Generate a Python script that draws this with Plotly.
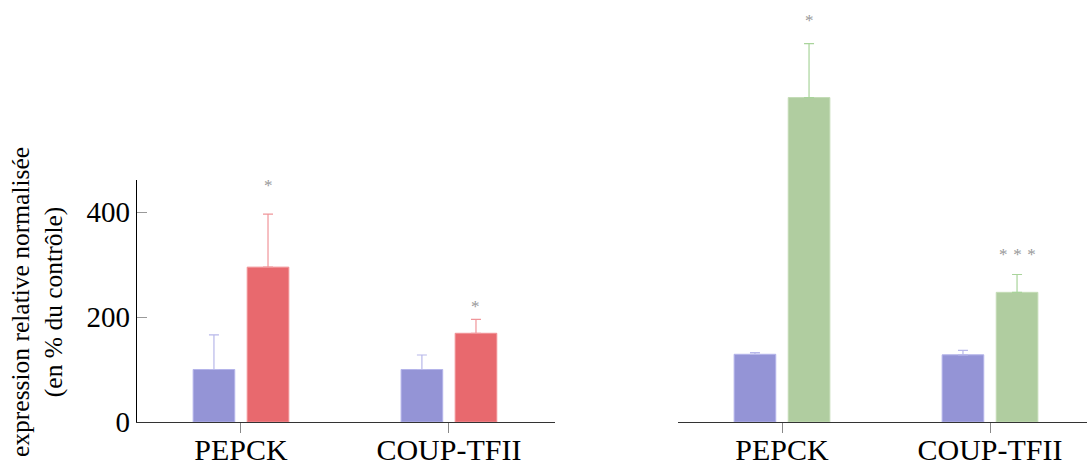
import plotly.graph_objects as go

categories = ["PEPCK", "COUP-TFII"]

# left panel
left_ctrl = [100, 100]
left_ctrl_err = [66, 27.6]
left_trt = [295, 169]
left_trt_err = [101, 26.6]
left_stars = ["*", "*"]
left_star_y = [451, 220]

# right panel
right_ctrl = [129, 128]
right_ctrl_err = [3, 8.5]
right_trt = [618, 247]
right_trt_err = [102.6, 34]
right_stars = ["*", "* * *"]
right_star_y = [764, 319]

yticks = [0, 200, 400]

BLUE = "#9494d6"
BLUE_ERR = "#b8b8ea"
BLUE_EDGE = "#b4b4ea"
RED = "#e8696e"
RED_ERR = "#f0969a"
RED_EDGE = "#f29296"
GREEN = "#b0cda0"
GREEN_ERR = "#a9d49b"
GREEN_EDGE = "#c4dcb6"

BARGAP = 0.48
BARGROUPGAP = 0.23
slot = (1 - BARGAP) / 2
offset = slot / 2

fig = go.Figure()

def add_bar(vals, errs, color, edge, errc, xa, ya):
    fig.add_trace(go.Bar(
        x=categories, y=vals, xaxis=xa, yaxis=ya,
        marker=dict(color=color, line=dict(color=edge, width=1)),
        error_y=dict(type="data", array=errs, symmetric=False, arrayminus=[0]*len(errs),
                     color=errc, thickness=1.2, width=5),
        showlegend=False, hoverinfo="y",
    ))

add_bar(left_ctrl, left_ctrl_err, BLUE, BLUE_EDGE, BLUE_ERR, "x", "y")
add_bar(left_trt, left_trt_err, RED, RED_EDGE, RED_ERR, "x", "y")
add_bar(right_ctrl, right_ctrl_err, BLUE, BLUE_EDGE, BLUE_ERR, "x2", "y2")
add_bar(right_trt, right_trt_err, GREEN, GREEN_EDGE, GREEN_ERR, "x2", "y2")

W, H = 1087, 467
MB = 45
plot_h = H - MB
px_per_unit = 0.525
left_top = 180
left_range_top = (plot_h - left_top) / px_per_unit
left_dom_top = (plot_h - left_top) / plot_h
right_range_top = plot_h / px_per_unit

FONT = "Liberation Serif"
YTICKFONT = dict(family=FONT, size=29, color="black")
XTICKFONT = dict(family=FONT, size=30, color="black")

xaxis_common = dict(
    type="category", showline=True, linecolor="#333333", linewidth=1.2,
    ticks="outside", ticklen=10, tickcolor="#888888", tickwidth=1,
    tickfont=XTICKFONT, showgrid=False, zeroline=False, fixedrange=True,
    automargin=False, ticklabelstandoff=-9,
)

annotations = []
STARFONT = dict(family=FONT, size=17, color="#999999")
for i, (s, yv) in enumerate(zip(left_stars, left_star_y)):
    annotations.append(dict(x=i + offset, y=yv, xref="x", yref="y", text=s, showarrow=False,
                            font=STARFONT, yanchor="middle"))
for i, (s, yv) in enumerate(zip(right_stars, right_star_y)):
    annotations.append(dict(x=i + offset, y=yv, xref="x2", yref="y2",
                            text=s.replace(" ", "\u00a0\u200a"), showarrow=False,
                            font=STARFONT, yanchor="middle"))

annotations.append(dict(
    x=37 / W, y=(plot_h - 302) / plot_h, xref="paper", yref="paper",
    text="expression relative normalisée<br>(en % du contrôle)",
    textangle=-90, showarrow=False, align="center",
    font=dict(family=FONT, size=25.5, color="black"),
    xanchor="center", yanchor="middle",
))

fig.update_layout(
    width=W, height=H,
    margin=dict(l=0, r=0, t=0, b=MB),
    paper_bgcolor="white", plot_bgcolor="white",
    barmode="group", bargap=BARGAP, bargroupgap=BARGROUPGAP,
    xaxis=dict(domain=[137 / W, 555 / W], range=[-0.5, 1.51], anchor="y", **xaxis_common),
    xaxis2=dict(domain=[678 / W, 1.0], range=[-0.5, -0.5 + (W - 678) / 208], anchor="y2", **xaxis_common),
    yaxis=dict(domain=[0, left_dom_top], range=[0, left_range_top], anchor="x",
               showline=True, linecolor="black", linewidth=1.2,
               ticks="inside", ticklen=10, tickcolor="#999999", tickwidth=1,
               tickvals=yticks, tickfont=YTICKFONT, showgrid=False, zeroline=False,
               fixedrange=True, automargin=False),
    yaxis2=dict(domain=[0, 1], range=[0, right_range_top], anchor="x2", visible=False,
                fixedrange=True, automargin=False),
    annotations=annotations,
)

fig.write_html(
    "out.html",
    config={"displayModeBar": False},
    post_script="document.body.style.margin='0';document.body.style.overflow='hidden';",
)
